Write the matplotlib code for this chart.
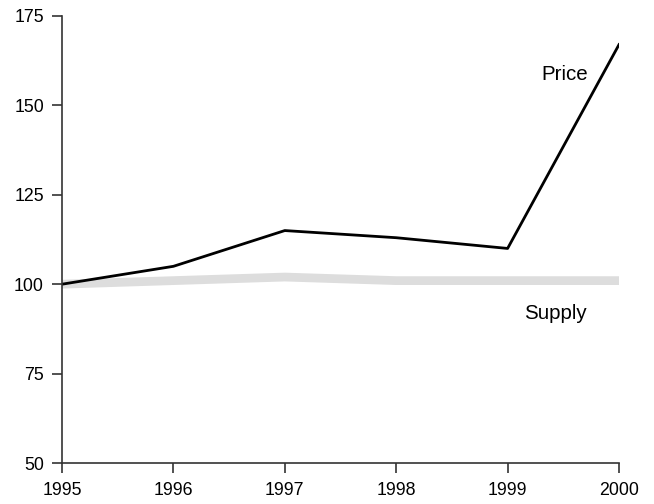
import matplotlib
matplotlib.use("Agg")
import matplotlib.pyplot as plt

years = [1995, 1996, 1997, 1998, 1999, 2000]
price = [100, 105, 115, 113, 110, 167]
supply = [100, 101, 102, 101, 101, 101]
yticks = [50, 75, 100, 125, 150, 175]

plt.rcParams['font.family'] = ['Liberation Sans', 'DejaVu Sans']

fig = plt.figure(figsize=(6.54, 5.04), dpi=100)
ax = fig.add_axes([62/654, 41/504, (619-62)/654, (463-16)/504])

ax.plot(years, supply, color='#dddddd', lw=6.3, solid_capstyle='butt', zorder=1)
ax.plot(years, price, color='black', lw=2, zorder=2)

ax.text(1999.51, 157.1, 'Price', fontsize=14.8, ha='center', va='baseline')
ax.text(1999.43, 90.3, 'Supply', fontsize=14.8, ha='center', va='baseline')

ax.set_xlim(1995, 2000)
ax.set_ylim(50, 175)
ax.set_xticks(years)
ax.set_yticks(yticks)
ax.set_xticklabels([str(y) for y in years])
for s in ['top', 'right']:
    ax.spines[s].set_visible(False)
for s in ['left', 'bottom']:
    ax.spines[s].set_color('#333333')
    ax.spines[s].set_linewidth(1.2)
ax.tick_params(direction='out', length=7, width=1.2, color='#333333', labelsize=12.8)
ax.tick_params(axis='x', pad=6.5)
ax.tick_params(axis='y', pad=6)
ax.patch.set_alpha(0)

fig.savefig('out.png', dpi=100)
